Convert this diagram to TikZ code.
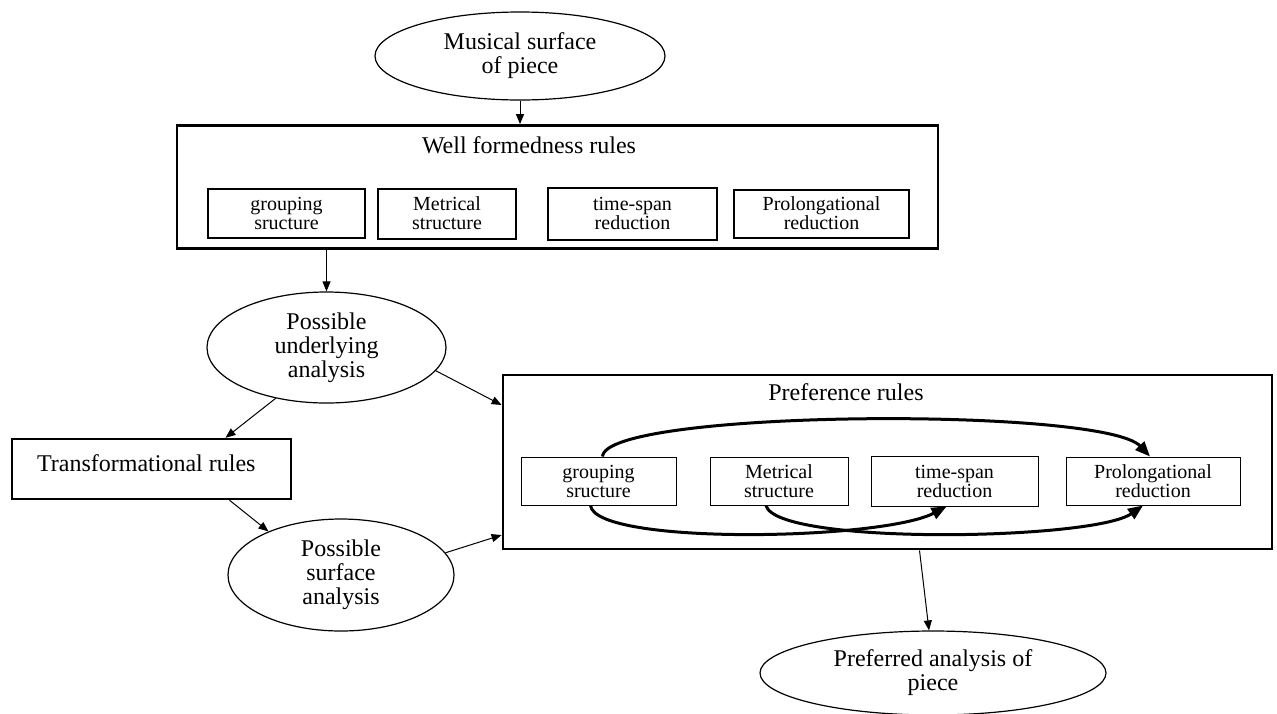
\documentclass[tikz,border=0pt]{standalone}
\usepackage{fontspec}
\setmainfont{Liberation Serif}
\usetikzlibrary{arrows.meta, shapes.geometric, positioning}

\begin{document}
\begin{tikzpicture}[
    x=0.5pt, y=-0.5pt,
    big/.style={font=\fontsize{12}{12}\selectfont},
    oval/.style={draw, ellipse, line width=0.6pt, inner sep=0pt, align=center, big},
    frame/.style={draw, line width=1.4pt},
    wbox/.style={draw, line width=1pt, align=center, inner sep=1pt,
                 font=\fontsize{10}{9.5}\selectfont},
    pbox/.style={draw, line width=0.5pt, align=center, inner sep=1pt,
                 font=\fontsize{10}{9.5}\selectfont},
    arrow/.style={-{Triangle[length=5pt, width=4pt]}, line width=0.5pt},
    swing/.style={-{Triangle[length=7.5pt, width=6pt]}, line width=1.5pt},
]
\useasboundingbox (0,0) rectangle (1277,713);

\node[oval, minimum width=145pt, minimum height=44pt] (surf) at (520,56) {Musical surface\\of piece};

\node[frame, minimum width=380.5pt, minimum height=61.5pt] (wfr) at (557.5,187) {};
\node[big] (wtitle) at (529,145) {Well formedness rules};
\node[wbox, minimum width=78.5pt, minimum height=24.5pt] (wgrp) at (286.5,213.5) {grouping\\sructure};
\node[wbox, minimum width=69pt, minimum height=25pt, right=5.5pt of wgrp]  (wmet) {Metrical\\structure};
\node[wbox, minimum width=84.5pt, minimum height=26pt, right=15pt of wmet] (wtsr) {time-span\\reduction};
\node[wbox, minimum width=87.5pt, minimum height=24pt, right=7.5pt of wtsr] (wpro) {Prolongational\\reduction};

\node[oval, minimum width=119.5pt, minimum height=55.5pt] (pua) at (326.5,347.5) {Possible\\underlying\\analysis};

\node[draw, line width=1.2pt, minimum width=139.5pt, minimum height=30pt] (trans) at (151.5,469) {};
\node[big, anchor=west] (transtxt) at (30,463) {Transformational rules};

\node[oval, minimum width=113pt, minimum height=56pt] (psa) at (341,575) {Possible\\surface\\analysis};

\node[frame, minimum width=384.5pt, minimum height=87pt] (pref) at (887.5,462) {};
\node[big] (ptitle) at (846,392) {Preference rules};
\node[pbox, minimum width=77.5pt, minimum height=24pt] (pgrp) at (598.5,481) {grouping\\sructure};
\node[pbox, minimum width=69pt, minimum height=24pt, right=16.5pt of pgrp]   (pmet) {Metrical\\structure};
\node[pbox, minimum width=83.5pt, minimum height=25pt, right=11pt of pmet]   (ptsr) {time-span\\reduction};
\node[pbox, minimum width=87pt, minimum height=24pt, right=13.5pt of ptsr]   (ppro) {Prolongational\\reduction};

\node[oval, minimum width=173pt, minimum height=42pt] (pa) at (933,673) {Preferred analysis of\\piece};

\draw[arrow] (surf.south) -- (surf.south |- wfr.north);
\draw[arrow] (pua.north |- wfr.south) -- (pua.north);
\draw[arrow] (pua.225) -- ([xshift=37pt]trans.north);
\draw[arrow] ([xshift=39pt]trans.south) -- (psa.149);
\draw[arrow] (pua.-12) -- ([yshift=28.5pt]pref.west);
\draw[arrow] (psa.12) -- ([yshift=-36.5pt]pref.west);
\draw[arrow] ([xshift=16pt]pref.south) -- ([xshift=-2pt]pa.north);

\draw[swing] ([xshift=2pt]pgrp.north) .. controls +(3,-47) and +(-47,-50) .. ([xshift=-1.5pt]ppro.north);
\draw[swing] ([xshift=-4pt]pgrp.south) .. controls +(5,40) and +(-65,34) .. ([xshift=-4pt]ptsr.south);
\draw[swing] ([xshift=-6.5pt]pmet.south) .. controls +(10,40) and +(-50,35) .. ([xshift=-5pt]ppro.south);
\end{tikzpicture}
\end{document}
